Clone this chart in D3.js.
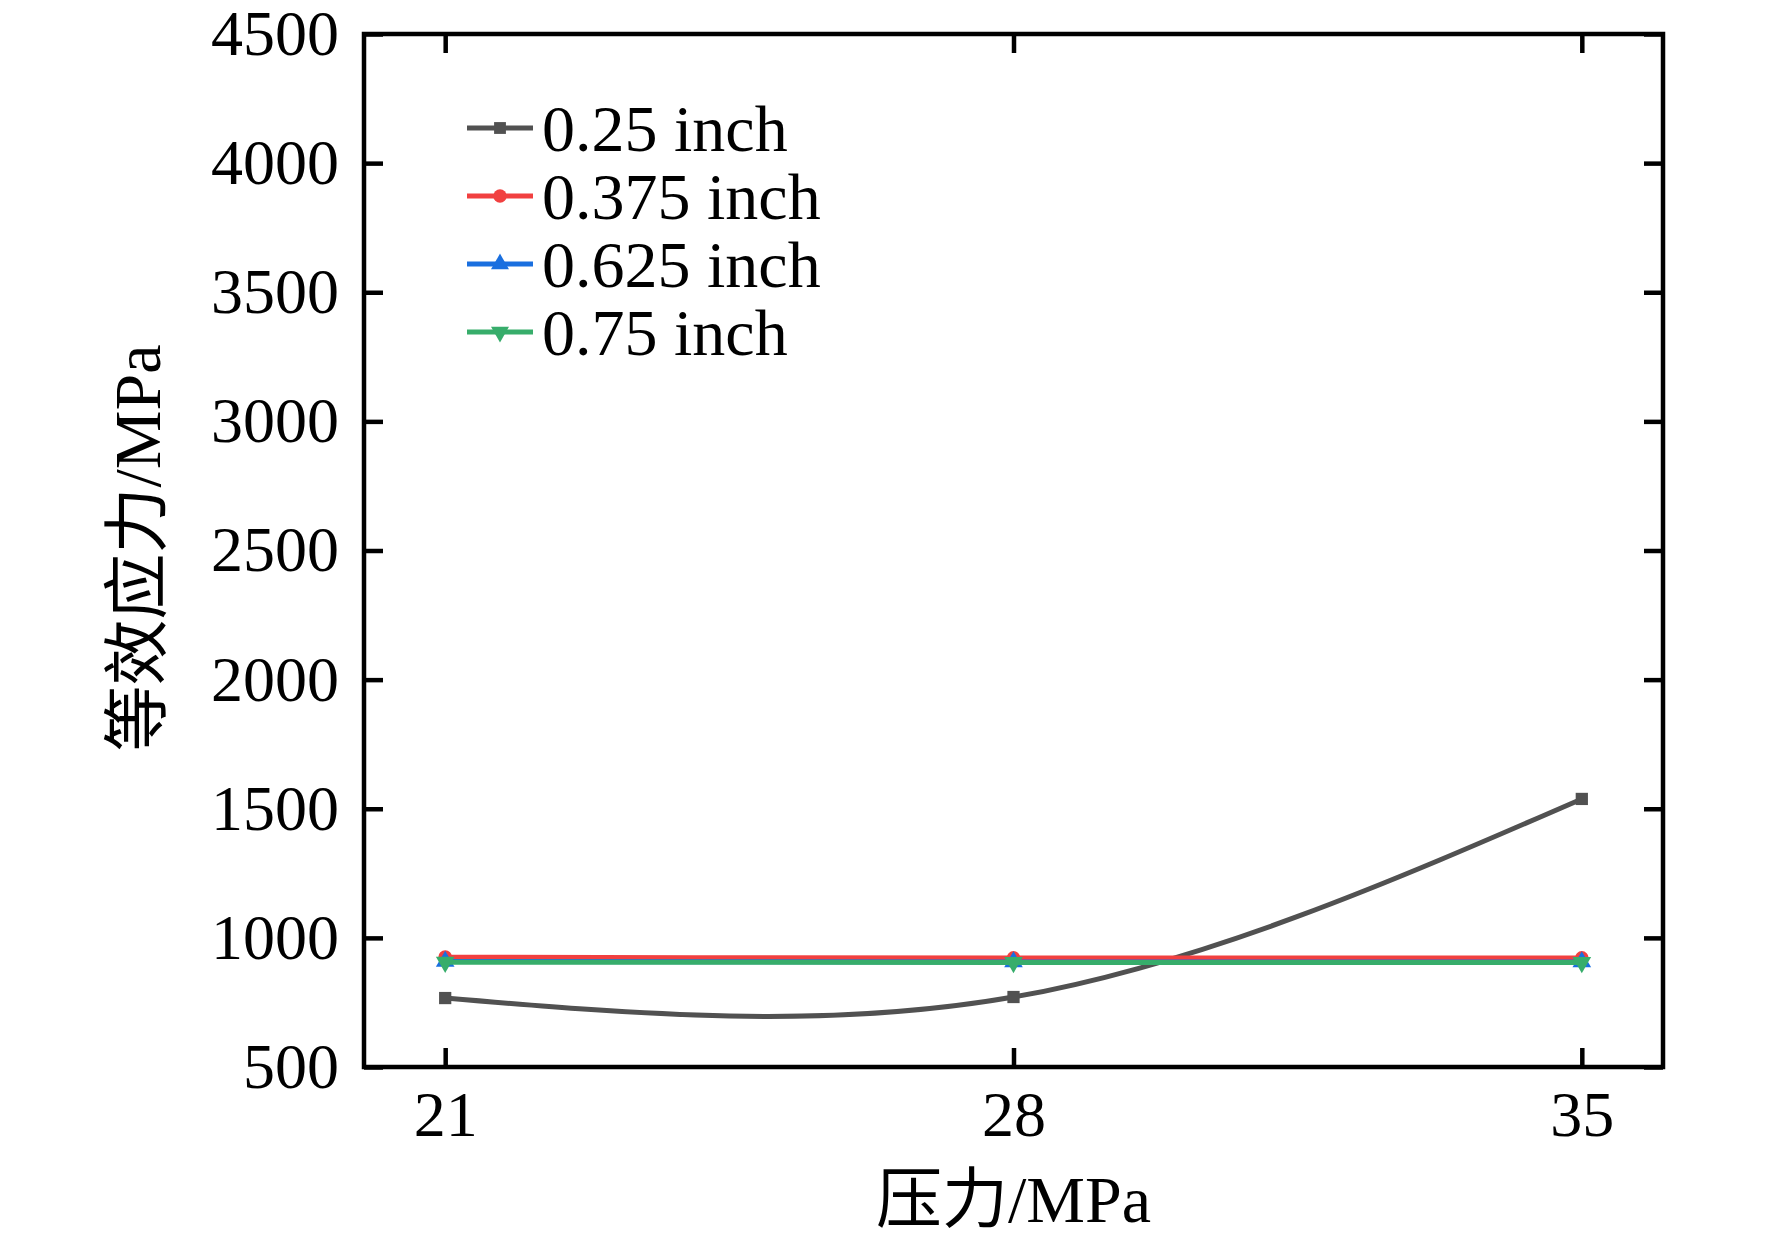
<!DOCTYPE html>
<html>
<head>
<meta charset="utf-8">
<script src="https://cdn.jsdelivr.net/npm/d3@7"></script>
<style>
  body { margin: 0; background: #fff; }
  text { font-family: "Liberation Serif", "Times New Roman", "Noto Sans CJK SC", serif; fill: #000; }
</style>
</head>
<body>
<svg id="chart" width="1772" height="1243"></svg>
<script>

// data
var pressures = [21, 28, 35];
var seriesNames = ["0.25 inch", "0.375 inch", "0.625 inch", "0.75 inch"];
var stress025 = [767, 771, 1538];
var stress0375 = [925, 922, 922];
var stress0625 = [909, 907, 907];
var stress075 = [906, 905, 905];
var yTicks = [500, 1000, 1500, 2000, 2500, 3000, 3500, 4000, 4500];

var colors = ["#515151", "#F14040", "#1A6FDF", "#37AD6B"];
var symbols = [d3.symbolSquare, d3.symbolCircle, d3.symbolTriangle, d3.symbolTriangle];
var rotations = [0, 0, 0, 180];

var series = [stress025, stress0375, stress0625, stress075].map(function(vals, i){
    return {
        name: seriesNames[i],
        values: vals.map(function(v, j){ return {x: pressures[j], y: v}; })
    };
});

var margin = {top: 34, right: 109, bottom: 176, left: 364},
    width = 1772 - margin.left - margin.right,
    height = 1243 - margin.top - margin.bottom;

var svg = d3.select("#chart");
var g = svg.append("g")
    .attr("transform", "translate(" + margin.left + "," + margin.top + ")");

var x = d3.scaleLinear().domain([20, 36]).range([0, width]);
var y = d3.scaleLinear().domain([500, 4500]).range([height, 0]);

var tickLen = 19;

/** axes, ticks pointing inward **/
var xAxis = g.append("g")
    .attr("transform", "translate(0," + height + ")")
    .call(d3.axisBottom(x).tickValues(pressures).tickSize(-tickLen).tickPadding(24));

var yAxis = g.append("g")
    .call(d3.axisLeft(y).tickValues(yTicks).tickFormat(d3.format("d")).tickSize(-tickLen).tickPadding(25));

var xTop = g.append("g")
    .call(d3.axisTop(x).tickValues(pressures).tickSize(-tickLen).tickFormat(""));

var yRight = g.append("g")
    .attr("transform", "translate(" + width + ",0)")
    .call(d3.axisRight(y).tickValues(yTicks).tickSize(-tickLen).tickFormat(""));

[xAxis, yAxis, xTop, yRight].forEach(function(a){
    a.select(".domain").remove();
    a.selectAll(".tick line").attr("stroke", "#000").attr("stroke-width", 4.5);
    a.selectAll(".tick text").style("font-size", "64px").attr("fill", "#000");
});

g.append("rect")
    .attr("x", 0)
    .attr("y", 0)
    .attr("width", width)
    .attr("height", height)
    .attr("fill", "none")
    .attr("stroke", "#000")
    .attr("stroke-width", 4.5);

/** lines **/
var line = d3.line()
    .x(function(d){ return x(d.x); })
    .y(function(d){ return y(d.y); })
    .curve(d3.curveNatural);

var lines = g.selectAll(".series")
    .data(series)
    .enter().append("g")
    .attr("class", "series");

lines.append("path")
    .attr("d", function(d){ return line(d.values); })
    .attr("fill", "none")
    .attr("stroke", function(d, i){ return colors[i]; })
    .attr("stroke-width", 5);

lines.each(function(d, i){
    d3.select(this).selectAll("path.marker")
        .data(d.values)
        .enter().append("path")
        .attr("class", "marker")
        .attr("d", d3.symbol().type(symbols[i]).size(150))
        .attr("transform", function(p){
            return "translate(" + x(p.x) + "," + y(p.y) + ") rotate(" + rotations[i] + ")";
        })
        .attr("fill", colors[i]);
});

/** legend **/
var legend = g.selectAll(".legend")
    .data(series)
    .enter().append("g")
    .attr("class", "legend")
    .attr("transform", function(d, i){
        return "translate(" + (467 - margin.left) + "," + (128 - margin.top + i * 68) + ")";
    });

legend.append("line")
    .attr("x1", 0)
    .attr("x2", 66)
    .attr("y1", 0)
    .attr("y2", 0)
    .attr("stroke", function(d, i){ return colors[i]; })
    .attr("stroke-width", 5);

legend.append("path")
    .attr("d", function(d, i){ return d3.symbol().type(symbols[i]).size(140)(); })
    .attr("transform", function(d, i){ return "translate(33,0) rotate(" + rotations[i] + ")"; })
    .attr("fill", function(d, i){ return colors[i]; });

legend.append("text")
    .attr("x", 75)
    .attr("y", 23)
    .style("font-size", "66px")
    .text(function(d){ return d.name; });

/** axis titles **/
svg.append("text")
    .attr("x", margin.left + x(28))
    .attr("y", 1222)
    .attr("text-anchor", "middle")
    .style("font-size", "66px")
    .text("压力/MPa");

svg.append("text")
    .attr("transform", "translate(160,548) rotate(-90)")
    .attr("text-anchor", "middle")
    .style("font-size", "66px")
    .text("等效应力/MPa");

</script>
</body>
</html>
